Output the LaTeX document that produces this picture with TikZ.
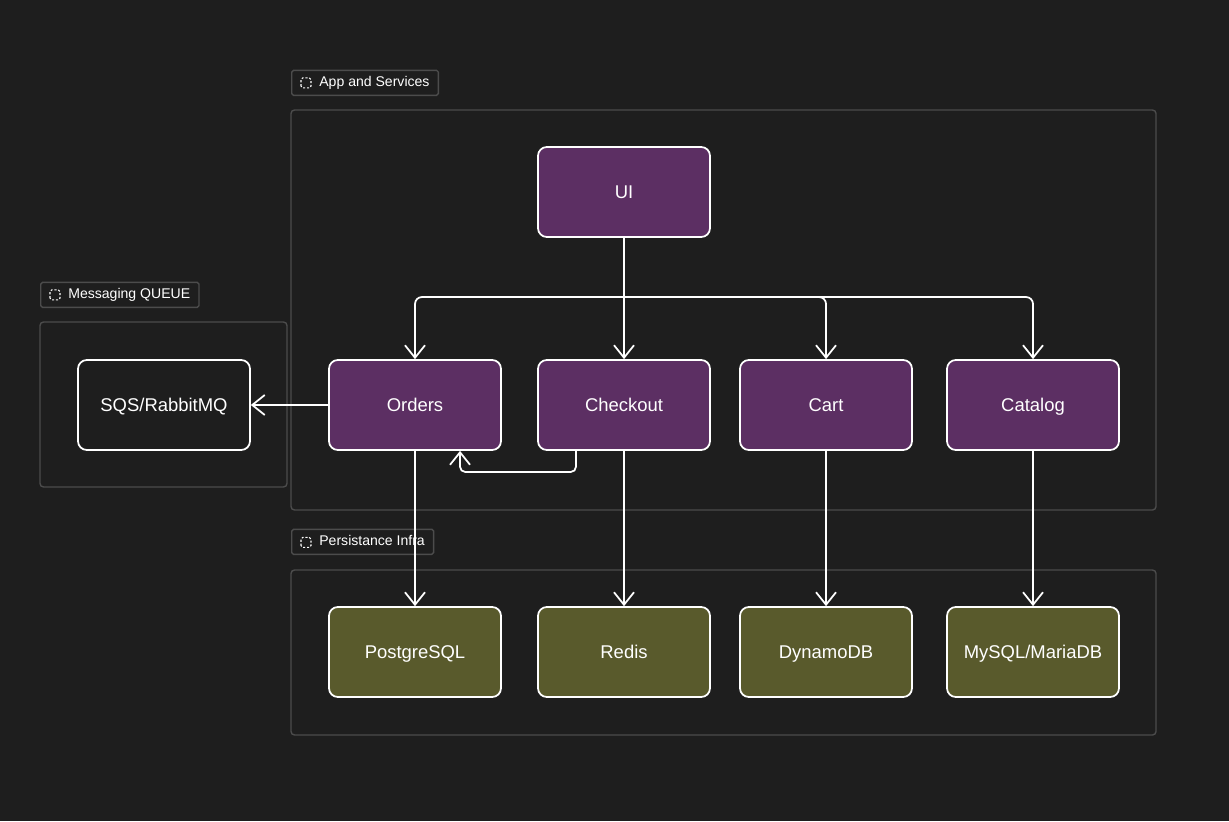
\documentclass[tikz,border=0pt]{standalone}
\usepackage{fontspec}
\setmainfont{Liberation Sans}
\usetikzlibrary{positioning,arrows.meta}
\definecolor{bg}{HTML}{1E1E1E}
\definecolor{svc}{HTML}{5C2F63}
\definecolor{store}{HTML}{595A2C}
\definecolor{grp}{HTML}{4C4C4C}
\tikzset{
  box/.style={draw=white, line width=1pt, rounded corners=5pt, minimum width=3.44cm,
    minimum height=1.8cm, text=white, font=\fontsize{10.5}{12}\selectfont,
    text height=1.6ex, text depth=0.3ex},
  group/.style={draw=grp, line width=0.8pt, rounded corners=2pt},
  tag/.style={draw=grp, line width=0.8pt, rounded corners=1pt, text=white,
    font=\fontsize{8}{10}\selectfont, inner xsep=5pt, inner ysep=3pt,
    minimum height=0.5cm, anchor=south west},
  link/.style={draw=white, line width=1pt, -{Straight Barb[length=2.5mm,width=4mm]}}
}
\newcommand{\grouptag}[3]{%
  \node[tag] (#1) at (#2) {\tikz[x=1cm,y=1cm,baseline=0.2ex]\draw[white,dash pattern=on 1.2pt off 1pt,line width=0.6pt] (0,0) rectangle (0.2,0.2);\ \ #3};}
\begin{document}
\begin{tikzpicture}[x=0.02cm,y=-0.02cm]
  \fill[bg] (0,0) rectangle (1229,821);
  % groups
  \draw[group] (291,110) rectangle (1156,510);
  \draw[group] (40,322) rectangle (287,487);
  \draw[group] (291,570) rectangle (1156,735);
  \grouptag{tapp}{291,96}{App and Services}
  \grouptag{tmsg}{40,308}{Messaging QUEUE}
  \grouptag{tdb}{291,555}{Persistance Infra}
  % services
  \node[box, fill=svc] (ui) at (624,192) {UI};
  \node[box, fill=svc] (orders) at (415,405) {Orders};
  \node[box, fill=svc] (checkout) at (624,405) {Checkout};
  \node[box, fill=svc] (cart) at (826,405) {Cart};
  \node[box, fill=svc] (catalog) at (1033,405) {Catalog};
  \node[box, fill=bg] (queue) at (164,405) {SQS/RabbitMQ};
  % stores
  \node[box, fill=store] (pg) at (415,652) {PostgreSQL};
  \node[box, fill=store] (redis) at (624,652) {Redis};
  \node[box, fill=store] (dynamo) at (826,652) {DynamoDB};
  \node[box, fill=store] (maria) at (1033,652) {MySQL/MariaDB};
  % connectors
  \coordinate (bus) at (624,297);
  \draw[white, line width=1pt] (ui) -- (bus);
  \foreach \n in {orders,checkout,cart,catalog}
    \draw[link, rounded corners=4pt] (bus) -| (\n);
  \draw[link] (orders) -- (queue);
  \draw[link, rounded corners=3pt] (checkout.south -| 576,0) |- (460,472) -- (orders.south -| 460,0);
  \draw[link] (orders) -- (pg);
  \draw[link] (checkout) -- (redis);
  \draw[link] (cart) -- (dynamo);
  \draw[link] (catalog) -- (maria);
\end{tikzpicture}
\end{document}
